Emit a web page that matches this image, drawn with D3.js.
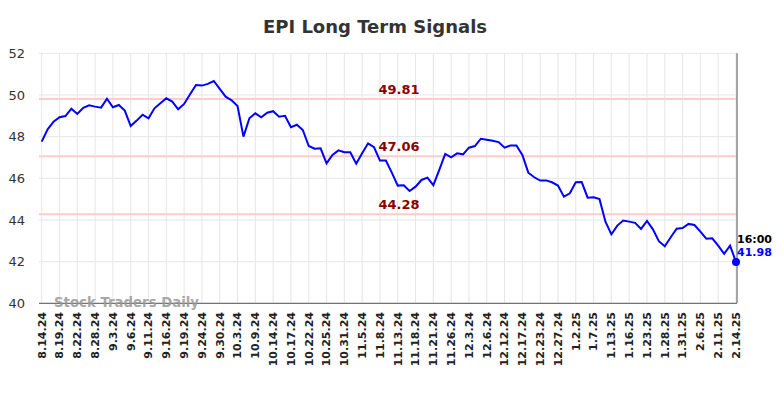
<!DOCTYPE html>
<html>
<head>
<meta charset="utf-8">
<script src="https://cdn.jsdelivr.net/npm/d3@7"></script>
<style>
  body { margin: 0; background: #fff; }
  text { font-family: "DejaVu Sans", sans-serif; }
</style>
</head>
<body>
<div id="chart"></div>
<script>
// tick labels, one every 3 data points
const tickLabels = ['8.14.24','8.19.24','8.22.24','8.28.24','9.3.24','9.6.24','9.11.24','9.16.24','9.19.24','9.24.24',
  '9.30.24','10.3.24','10.9.24','10.14.24','10.17.24','10.22.24','10.25.24','10.31.24','11.5.24','11.8.24',
  '11.13.24','11.18.24','11.21.24','11.26.24','12.3.24','12.6.24','12.12.24','12.17.24','12.23.24','12.27.24',
  '1.2.25','1.7.25','1.13.25','1.16.25','1.23.25','1.28.25','1.31.25','2.6.25','2.11.25','2.14.25'];

const prices = [47.76,48.35,48.72,48.93,48.99,49.34,49.09,49.38,49.50,49.44,
  49.39,49.82,49.41,49.52,49.25,48.51,48.77,49.05,48.88,49.36,
  49.60,49.84,49.68,49.31,49.57,50.03,50.48,50.45,50.53,50.67,
  50.29,49.92,49.74,49.47,48.00,48.88,49.12,48.93,49.15,49.22,
  48.96,49.00,48.45,48.57,48.32,47.55,47.42,47.44,46.72,47.12,
  47.34,47.25,47.25,46.70,47.20,47.68,47.49,46.85,46.85,46.27,
  45.65,45.67,45.39,45.60,45.92,46.03,45.67,46.40,47.17,47.01,
  47.20,47.15,47.47,47.55,47.90,47.85,47.80,47.74,47.47,47.58,
  47.58,47.12,46.27,46.05,45.89,45.90,45.81,45.65,45.12,45.28,
  45.81,45.82,45.07,45.09,45.00,43.92,43.31,43.73,43.97,43.92,
  43.86,43.57,43.95,43.55,42.98,42.74,43.17,43.58,43.61,43.81,
  43.76,43.44,43.10,43.12,42.77,42.38,42.77,41.98];

const signals = [49.81, 47.06, 44.28];
const yTicks = [40, 42, 44, 46, 48, 50, 52];
const lastTime = '16:00';

const width = 784, height = 398;
const plotLeft = 39, plotRight = 737, plotTop = 53.3, plotBottom = 303.3;

const svg = d3.select('#chart').append('svg')
  .attr('width', width)
  .attr('height', height);

const x = d3.scaleLinear()
  .domain([0, prices.length - 1])
  .range([41.7, 736]);
const y = d3.scaleLinear()
  .domain([40, 52])
  .range([plotBottom, plotTop]);

// grid
svg.append('g')
  .selectAll('line')
  .data(yTicks)
  .enter().append('line')
  .attr('x1', plotLeft).attr('x2', plotRight)
  .attr('y1', d => y(d)).attr('y2', d => y(d))
  .attr('stroke', '#e6e6e6')
  .attr('stroke-width', 1);

svg.append('g')
  .selectAll('line')
  .data(tickLabels)
  .enter().append('line')
  .attr('x1', (d, i) => x(i * 3)).attr('x2', (d, i) => x(i * 3))
  .attr('y1', plotTop).attr('y2', plotBottom)
  .attr('stroke', '#e6e6e6')
  .attr('stroke-width', 1);

// y labels
svg.append('g')
  .selectAll('text')
  .data(yTicks)
  .enter().append('text')
  .attr('x', 25)
  .attr('y', d => y(d))
  .attr('dy', '0.35em')
  .attr('text-anchor', 'end')
  .attr('font-size', 13)
  .attr('fill', '#333')
  .text(d => d);

// x labels
svg.append('g')
  .selectAll('text')
  .data(tickLabels)
  .enter().append('text')
  .attr('transform', (d, i) => 'translate(' + x(i * 3) + ',312) rotate(-90)')
  .attr('dy', '0.35em')
  .attr('text-anchor', 'end')
  .attr('font-size', 11)
  .attr('font-weight', 'bold')
  .attr('fill', '#222')
  .text(d => d);

// signal lines
svg.append('g')
  .selectAll('line')
  .data(signals)
  .enter().append('line')
  .attr('x1', plotLeft).attr('x2', plotRight)
  .attr('y1', d => y(d)).attr('y2', d => y(d))
  .attr('stroke', '#ffcccc')
  .attr('stroke-width', 2);

svg.append('g')
  .selectAll('text')
  .data(signals)
  .enter().append('text')
  .attr('x', 399)
  .attr('y', d => y(d) - 5)
  .attr('text-anchor', 'middle')
  .attr('font-size', 13)
  .attr('font-weight', 'bold')
  .attr('fill', '#8b0000')
  .text(d => d.toFixed(2));

// axes lines
svg.append('line')
  .attr('x1', plotLeft).attr('x2', plotRight)
  .attr('y1', plotBottom).attr('y2', plotBottom)
  .attr('stroke', '#555').attr('stroke-width', 1);
svg.append('line')
  .attr('x1', plotRight).attr('x2', plotRight)
  .attr('y1', plotTop).attr('y2', plotBottom)
  .attr('stroke', '#888').attr('stroke-width', 1.5);

// watermark
svg.append('text')
  .attr('x', 54)
  .attr('y', 307)
  .attr('font-size', 13.3)
  .attr('font-weight', 'bold')
  .attr('fill', '#999')
  .attr('opacity', 0.85)
  .text('Stock Traders Daily');

// price line
const line = d3.line()
  .x((d, i) => x(i))
  .y(d => y(d));

svg.append('path')
  .datum(prices)
  .attr('fill', 'none')
  .attr('stroke', '#0000ff')
  .attr('stroke-width', 2)
  .attr('d', line);

const lastI = prices.length - 1;
svg.append('circle')
  .attr('cx', x(lastI))
  .attr('cy', y(prices[lastI]))
  .attr('r', 4)
  .attr('fill', '#0000ff');

svg.append('text')
  .attr('x', x(lastI) + 1)
  .attr('y', y(prices[lastI]) - 19)
  .attr('font-size', 11)
  .attr('font-weight', 'bold')
  .attr('fill', '#000')
  .text(lastTime);
svg.append('text')
  .attr('x', x(lastI) + 1)
  .attr('y', y(prices[lastI]) - 6)
  .attr('font-size', 11)
  .attr('font-weight', 'bold')
  .attr('fill', '#0000ff')
  .text(prices[lastI].toFixed(2));

// title
svg.append('text')
  .attr('x', 375)
  .attr('y', 33)
  .attr('text-anchor', 'middle')
  .attr('font-size', 18)
  .attr('font-weight', 'bold')
  .attr('fill', '#333')
  .text('EPI Long Term Signals');
</script>
</body>
</html>
